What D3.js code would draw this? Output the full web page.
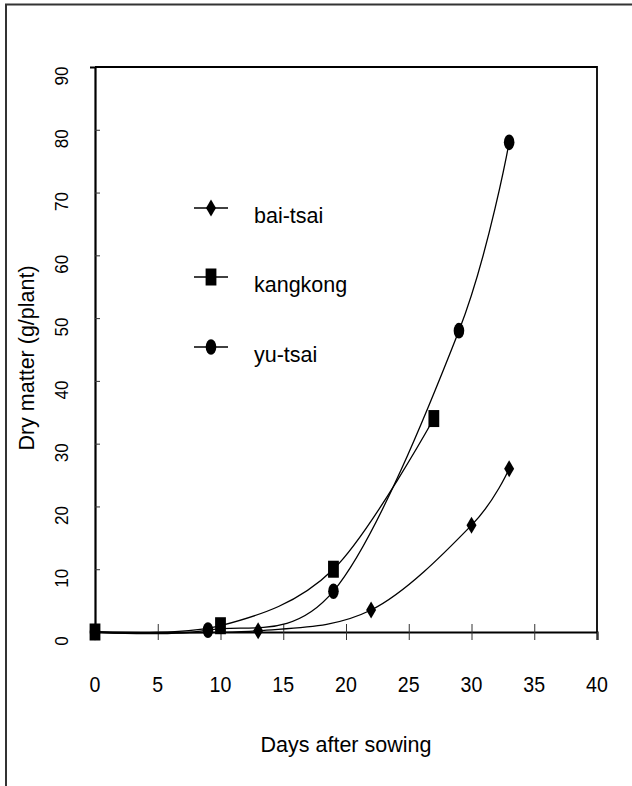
<!DOCTYPE html>
<html>
<head>
<meta charset="utf-8">
<script src="https://cdn.jsdelivr.net/npm/d3@7"></script>
<style>
  html, body { margin: 0; padding: 0; background: #fff; }
  svg { display: block; }
  text { font-family: "Liberation Sans", Arial, sans-serif; fill: #000; }
</style>
</head>
<body>
<svg id="chart" width="632" height="786"></svg>
<script>
// Dry matter accumulation of three leafy vegetables
const baiTsaiDays   = [0, 13, 22, 30, 33];
const baiTsaiValues = [0, 0.2, 3.5, 17, 26];
const kangkongDays   = [0, 10, 19, 27];
const kangkongValues = [0, 1, 10, 34];
const yuTsaiDays   = [0, 9, 19, 29, 33];
const yuTsaiValues = [0, 0.3, 6.5, 48, 78];

const xTicks = [0, 5, 10, 15, 20, 25, 30, 35, 40];
const yTicks = [0, 10, 20, 30, 40, 50, 60, 70, 80, 90];
const seriesNames = ["bai-tsai", "kangkong", "yu-tsai"];
const xTitle = "Days after sowing";
const yTitle = "Dry matter (g/plant)";

const series = [
  { name: seriesNames[0], marker: "diamond", pts: baiTsaiDays.map((d, i) => [d, baiTsaiValues[i]]) },
  { name: seriesNames[1], marker: "square",  pts: kangkongDays.map((d, i) => [d, kangkongValues[i]]) },
  { name: seriesNames[2], marker: "circle",  pts: yuTsaiDays.map((d, i) => [d, yuTsaiValues[i]]) }
];

const svg = d3.select("#chart");
const W = 632, H = 786;
const plot = { left: 95, right: 597, top: 67, bottom: 632 };

const x = d3.scaleLinear().domain([0, 40]).range([plot.left, plot.right]);
const y = d3.scaleLinear().domain([0, 90]).range([plot.bottom, plot.top]);

svg.append("rect").attr("width", W).attr("height", H).attr("fill", "#fff");

// outer frame (top and left edges)
svg.append("path")
  .attr("d", `M6,${H} L6,4.5 L${W},4.5`)
  .attr("fill", "none").attr("stroke", "#333").attr("stroke-width", 2);

// plot frame: top and right edges
svg.append("path")
  .attr("d", `M${plot.left},${plot.top} L${plot.right},${plot.top} L${plot.right},${plot.bottom}`)
  .attr("fill", "none").attr("stroke", "#000").attr("stroke-width", 1.8);

// x axis with ticks crossing the axis line
const gx = svg.append("g").attr("transform", `translate(0,${plot.bottom})`)
  .call(d3.axisBottom(x).tickValues(xTicks).tickSize(8).tickFormat(""));
gx.select(".domain").attr("stroke", "#000").attr("stroke-width", 2.2);
gx.selectAll(".tick line").attr("y1", d => (d === 40 ? 0 : -8)).attr("stroke", "#333").attr("stroke-width", 1);

svg.append("g").selectAll("text").data(xTicks).join("text")
  .attr("transform", d => `translate(${x(d)},${plot.bottom + 60}) scale(0.87,1)`)
  .attr("text-anchor", "middle").attr("font-size", 22.5)
  .text(d => d);

// y axis
const gy = svg.append("g").attr("transform", `translate(${plot.left},0)`)
  .call(d3.axisLeft(y).tickValues(yTicks).tickSize(5).tickFormat(""));
gy.select(".domain").attr("stroke", "#000").attr("stroke-width", 2.2);
gy.selectAll(".tick line").attr("x2", d => (d === 90 ? 0 : 5)).attr("stroke", "#333").attr("stroke-width", 1);

svg.append("g").selectAll("text").data(yTicks).join("text")
  .attr("transform", d => `translate(68,${y(d) + 9}) rotate(-90) scale(0.9,1)`)
  .attr("text-anchor", "middle").attr("font-size", 19)
  .text(d => d);

// axis titles
svg.append("text")
  .attr("x", (plot.left + plot.right) / 2).attr("y", 752)
  .attr("text-anchor", "middle").attr("font-size", 21.5)
  .text(xTitle);

svg.append("text")
  .attr("transform", `translate(34,358) rotate(-90)`)
  .attr("text-anchor", "middle").attr("font-size", 21.5)
  .text(yTitle);

// marker shapes
function drawMarker(g, type, cx, cy) {
  if (type === "diamond") {
    g.append("path").attr("d", `M${cx},${cy - 8.5} L${cx + 5},${cy} L${cx},${cy + 8.5} L${cx - 5},${cy} Z`).attr("fill", "#000");
  } else if (type === "square") {
    g.append("rect").attr("x", cx - 5.4).attr("y", cy - 8.5).attr("width", 10.8).attr("height", 17).attr("fill", "#000");
  } else {
    g.append("ellipse").attr("cx", cx).attr("cy", cy).attr("rx", 5.3).attr("ry", 7.8).attr("fill", "#000");
  }
}

const line = d3.line().x(d => x(d[0])).y(d => y(d[1])).curve(d3.curveCatmullRom.alpha(0));

const gLines = svg.append("g");
series.forEach(s => {
  gLines.append("path").attr("d", line(s.pts))
    .attr("fill", "none").attr("stroke", "#000").attr("stroke-width", 1.3);
});

// markers: kangkong last so its square sits on top at the origin
const gMarks = svg.append("g");
[series[0], series[2], series[1]].forEach(s => {
  s.pts.forEach(p => drawMarker(gMarks, s.marker, x(p[0]), y(p[1])));
});

// legend
const legendRows = [208, 277, 347];
const gLeg = svg.append("g");
series.forEach((s, i) => {
  const ly = legendRows[i];
  gLeg.append("line").attr("x1", 194).attr("x2", 228).attr("y1", ly).attr("y2", ly)
    .attr("stroke", "#000").attr("stroke-width", 1.3);
  drawMarker(gLeg, s.marker, 211, ly);
  gLeg.append("text").attr("x", 254).attr("y", ly + 15).attr("font-size", 21.5).text(s.name);
});
</script>
</body>
</html>
